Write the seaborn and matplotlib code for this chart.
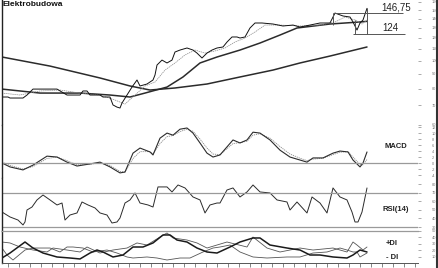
import numpy as np
import pandas as pd
import matplotlib
matplotlib.use("Agg")
import matplotlib.pyplot as plt
import seaborn as sns
from matplotlib.lines import Line2D

sns.set_theme(style="white")
plt.rcParams['font.family'] = ['Liberation Sans', 'DejaVu Sans']

# ---------------- data ----------------
price_day = [2, 8, 10, 23, 27, 33, 43, 47, 57, 62, 67, 80, 83, 87, 90, 100, 103, 110,
             113, 117, 120, 122, 127, 132, 137, 140, 147, 153, 155, 157, 162, 167, 172,
             175, 180, 187, 193, 197, 202, 207, 212, 217, 223, 227, 232, 237, 240, 245,
             250, 255, 262, 273, 283, 293, 300, 310, 320, 330, 335, 343, 350, 353, 357,
             360, 363, 367]
price_close = [74.8, 74.8, 74.2, 74.2, 76.0, 79.7, 79.7, 79.7, 79.7, 77.8, 76.0, 76.0,
               78.5, 78.5, 76.0, 76.0, 74.8, 74.8, 70.2, 69.0, 68.5, 71.3, 76.0, 81.0,
               85.7, 81.7, 83.0, 85.7, 89.2, 96.6, 100.5, 98.2, 100.5, 107.2, 108.9,
               110.7, 108.9, 106.3, 102.2, 106.3, 108.9, 110.7, 111.6, 116.1, 120.9,
               120.9, 119.9, 120.9, 129.9, 135.2, 135.2, 134.1, 132.0, 133.0, 130.9,
               133.0, 135.2, 135.2, 146.4, 143.0, 141.8, 136.3, 127.8, 135.2, 138.5, 152.0]

ma_long_day = [2, 50, 100, 130, 150, 175, 207, 240, 273, 300, 330, 367]
ma_long = [103.0, 95.8, 87.1, 81.7, 79.1, 80.4, 83.0, 87.8, 92.8, 98.2, 103.8, 111.6]

ma_mid_day = [2, 40, 80, 110, 130, 145, 167, 183, 200, 217, 240, 260, 280, 297, 330, 360, 367]
ma_mid = [79.7, 77.2, 77.2, 76.0, 74.8, 77.2, 81.0, 87.8, 98.2, 103.0, 108.9, 115.2,
          122.8, 129.9, 134.1, 136.3, 137.0]

ma_short_day = [2, 20, 40, 60, 80, 100, 115, 125, 135, 145, 155, 165, 175, 185, 195,
                205, 215, 225, 235, 245, 255, 265, 280, 300, 320, 335, 345, 355, 362, 367]
ma_short = [77.2, 76.0, 78.5, 79.1, 77.2, 76.0, 73.0, 70.7, 76.0, 81.7, 84.3, 92.8,
            98.2, 104.7, 108.9, 106.3, 108.1, 110.7, 116.1, 119.9, 125.8, 133.0, 133.0,
            132.0, 133.0, 136.3, 141.8, 138.5, 134.1, 138.5]

macd_day = [2, 10, 23, 33, 47, 57, 67, 77, 90, 100, 110, 120, 125, 133, 140, 150, 153,
            160, 167, 173, 180, 187, 193, 200, 207, 213, 220, 233, 240, 247, 253, 260,
            270, 280, 290, 300, 307, 313, 323, 333, 340, 348, 353, 360, 363, 367]
macd_line = [0.0, -1.3, -2.3, -0.7, 2.3, 2.0, 0.3, -1.0, -0.3, 0.3, -1.3, -3.3, -3.0,
             3.3, 5.0, 3.7, 2.7, 8.3, 10.0, 9.3, 11.3, 11.7, 10.0, 6.7, 3.3, 2.0, 2.7,
             7.7, 6.7, 7.7, 10.3, 10.0, 7.7, 4.3, 2.0, 1.0, 0.3, 1.7, 1.7, 3.3, 4.0, 3.7,
             1.0, -1.3, 0.0, 3.7]
macd_signal = [0.3, -0.8, -2.0, -1.2, 1.5, 2.0, 0.8, -0.6, -0.4, 0.0, -0.8, -2.8, -3.0,
               1.5, 3.8, 3.8, 3.0, 6.5, 8.8, 9.2, 10.5, 11.3, 10.6, 8.0, 5.0, 3.0, 2.8,
               6.5, 6.8, 7.3, 9.3, 9.8, 8.3, 5.5, 3.0, 1.6, 0.8, 1.3, 1.6, 2.8, 3.6, 3.8,
               2.0, -0.5, -0.6, 1.2]

rsi_day = [2, 10, 18, 23, 25, 27, 32, 37, 43, 50, 57, 62, 65, 70, 77, 82, 88, 95, 100,
           107, 112, 117, 120, 125, 130, 135, 140, 148, 153, 158, 167, 172, 178, 185,
           193, 200, 205, 210, 217, 220, 227, 233, 240, 247, 253, 260, 270, 277, 287,
           290, 297, 307, 312, 320, 327, 333, 340, 347, 352, 355, 358, 362, 367]
rsi_val = [47.6, 41.8, 38.2, 32.4, 35.9, 50.0, 53.5, 61.8, 67.6, 61.8, 55.9, 58.2,
           38.2, 44.1, 46.5, 59.4, 55.9, 52.4, 46.5, 44.1, 34.7, 35.9, 40.6, 58.2, 61.8,
           70.0, 58.2, 55.9, 53.5, 77.1, 77.1, 71.2, 79.4, 75.9, 65.3, 61.8, 46.5, 55.9,
           58.2, 58.2, 73.5, 75.9, 65.3, 71.2, 79.4, 71.2, 70.0, 61.8, 59.4, 50.0, 59.4,
           46.5, 65.3, 58.2, 46.5, 75.9, 65.3, 61.8, 47.6, 35.9, 35.9, 47.6, 75.9]

adx_day = [2, 10, 25, 33, 43, 57, 70, 80, 90, 97, 103, 113, 123, 133, 143, 153, 163,
           170, 177, 187, 197, 207, 217, 230, 240, 253, 260, 270, 287, 300, 310, 320,
           333, 347, 353, 360, 367]
adx_val = [7.8, 15.6, 32.8, 23.4, 15.6, 9.4, 7.8, 6.3, 15.6, 20.3, 17.2, 9.4, 12.5,
           25.0, 25.0, 31.3, 43.8, 43.8, 35.9, 32.8, 23.4, 17.2, 15.6, 25.0, 32.8, 39.1,
           39.1, 28.1, 23.4, 20.3, 12.5, 12.5, 9.4, 7.8, 12.5, 20.3, 17.2]

pdi_day = [2, 10, 20, 33, 47, 53, 67, 80, 87, 100, 113, 127, 137, 147, 160, 167, 173,
           187, 197, 207, 217, 227, 247, 253, 267, 280, 300, 313, 333, 347, 353, 357,
           363, 367]
pdi_val = [32.8, 31.3, 25.0, 20.3, 17.2, 23.4, 20.3, 17.2, 25.0, 15.6, 20.3, 23.4,
           31.3, 28.1, 40.6, 46.9, 39.1, 35.9, 31.3, 23.4, 28.1, 32.8, 25.0, 40.6, 23.4,
           17.2, 23.4, 20.3, 23.4, 17.2, 32.8, 28.1, 20.3, 25.0]

mdi_day = [2, 7, 13, 25, 33, 43, 50, 60, 67, 73, 83, 93, 107, 117, 127, 133, 147, 157,
           167, 180, 190, 203, 213, 220, 230, 240, 253, 267, 287, 300, 313, 327, 340,
           347, 353, 357, 360, 367]
mdi_val = [23.4, 12.5, 4.7, 20.3, 23.4, 23.4, 23.4, 17.2, 25.0, 25.0, 23.4, 17.2, 20.3,
           15.6, 9.4, 7.8, 9.4, 7.8, 4.7, 7.8, 7.8, 17.2, 23.4, 25.0, 28.1, 17.2, 9.4,
           7.8, 9.4, 9.4, 15.6, 17.2, 23.4, 20.3, 17.2, 17.2, 9.4, 15.6]

price_ticks = [60, 70, 80, 90, 100, 110, 120, 130, 140, 150, 160]
macd_ticks = [-4, -2, 0, 2, 4, 6, 8, 10, 12]
rsi_ticks = [30, 40, 50, 60, 70, 80]
dmi_ticks = [10, 20, 30, 40, 50]

level_high = 146.75
level_low = 124.0
title = "Elektrobudowa"

# ---------------- layout ----------------
W, H = 439, 268
fig = plt.figure(figsize=(W / 100, H / 100), dpi=100)
fig.patch.set_facecolor("white")

def fy(top_px, bot_px):
    return [2 / W, 1 - bot_px / H, (418 - 2) / W, (bot_px - top_px) / H]

ax_p = fig.add_axes(fy(0, 125))
ax_m = fig.add_axes(fy(125, 178))
ax_r = fig.add_axes(fy(178, 231))
ax_d = fig.add_axes(fy(231, 263))

dark = "#2b2b2b"
mid = "#555555"
grey = "#8a8a8a"

# price panel
sns.lineplot(x=ma_long_day, y=ma_long, ax=ax_p, color=dark, lw=1.1)
sns.lineplot(x=ma_mid_day, y=ma_mid, ax=ax_p, color=dark, lw=1.1)
sns.lineplot(x=ma_short_day, y=ma_short, ax=ax_p, color=grey, lw=0.5, linestyle=(0, (2, 1)))
sns.lineplot(x=price_day, y=price_close, ax=ax_p, color="#111111", lw=0.7)
ax_p.set_yscale("log")
ax_p.set_ylim(59.8, 162.5)

ax_p.hlines(level_high, 333, 403, color=mid, lw=0.7)
ax_p.hlines(level_low, 353, 405, color=mid, lw=0.7)
ax_p.vlines(333, 133.0, level_high, color=mid, lw=0.7)
ax_p.vlines(355, level_low, 138.5, color=mid, lw=0.7)
ax_p.vlines(367, level_low, 152.0, color=mid, lw=0.7)
ax_p.text(396, level_high * 1.005, "146,75", ha="center", va="bottom", fontsize=7, color="#222222")
ax_p.text(390, level_low * 1.01, "124", ha="center", va="bottom", fontsize=7, color="#222222")

# MACD panel
sns.lineplot(x=macd_day, y=macd_signal, ax=ax_m, color=grey, lw=0.6, linestyle=(0, (1.5, 1)))
sns.lineplot(x=macd_day, y=macd_line, ax=ax_m, color=dark, lw=0.8)
ax_m.axhline(0, color="#9a9a9a", lw=0.9)
ax_m.set_ylim(-5, 12.7)
ax_m.text(396, 5.5, "MACD", ha="center", va="center", fontsize=5.5, fontweight="bold", color="#222222")

# RSI panel
sns.lineplot(x=rsi_day, y=rsi_val, ax=ax_r, color=dark, lw=0.7)
ax_r.axhline(70, color="#9a9a9a", lw=0.9)
ax_r.axhline(30, color="#9a9a9a", lw=0.9)
ax_r.set_ylim(25.3, 87.6)
ax_r.text(396, 51, "RSI(14)", ha="center", va="center", fontsize=5.5, fontweight="bold", color="#222222")

# DMI panel
sns.lineplot(x=pdi_day, y=pdi_val, ax=ax_d, color=mid, lw=0.6)
sns.lineplot(x=mdi_day, y=mdi_val, ax=ax_d, color=mid, lw=0.6)
sns.lineplot(x=adx_day, y=adx_val, ax=ax_d, color="#1a1a1a", lw=1.1)
ax_d.set_ylim(0, 50)
ax_d.text(392, 31, "+DI", ha="center", va="center", fontsize=5.5, fontweight="bold", color="#222222")
ax_d.text(392, 9, "- DI", ha="center", va="center", fontsize=5.5, fontweight="bold", color="#222222")

ticks_sets = [(ax_p, price_ticks), (ax_m, macd_ticks), (ax_r, rsi_ticks), (ax_d, dmi_ticks)]
for ax, tk in ticks_sets:
    ax.set_xlim(2, 418)
    ax.set_facecolor("white")
    ax.set_xlabel("")
    ax.set_ylabel("")
    ax.yaxis.tick_right()
    ax.set_yticks(tk)
    ax.set_yticklabels([str(t) for t in tk])
    ax.yaxis.set_minor_locator(matplotlib.ticker.NullLocator())
    ax.tick_params(axis="y", which="both", right=True, left=False, length=2, width=0.5,
                   color=grey, labelsize=2.8, labelcolor="#777777", pad=8, direction="out")
    for s in ["top", "bottom", "right"]:
        ax.spines[s].set_visible(False)
    ax.spines["left"].set_visible(True)
    ax.spines["left"].set_color("#222222")
    ax.spines["left"].set_linewidth(1.0)
    ax.grid(False)
    if ax is not ax_d:
        ax.set_xticks([])

ax_d.spines["top"].set_visible(True)
ax_d.spines["top"].set_color("#9a9a9a")
ax_d.spines["top"].set_linewidth(0.9)
ax_d.spines["bottom"].set_visible(True)
ax_d.spines["bottom"].set_color("#555555")
ax_d.spines["bottom"].set_linewidth(0.7)
ax_d.set_xticks(np.arange(8, 418, 11))
ax_d.set_xticklabels([])
ax_d.tick_params(axis="x", bottom=True, length=3, width=0.5, color="#555555", direction="out")

fig.add_artist(Line2D([437 / W, 437 / W], [0, 1], color="#333333", lw=1.5))
fig.text(3 / W, 1 - 5 / H, title, ha="left", va="center", fontsize=6, fontweight="bold", color="#111111")

fig.savefig("out.png", dpi=100, facecolor="white")
